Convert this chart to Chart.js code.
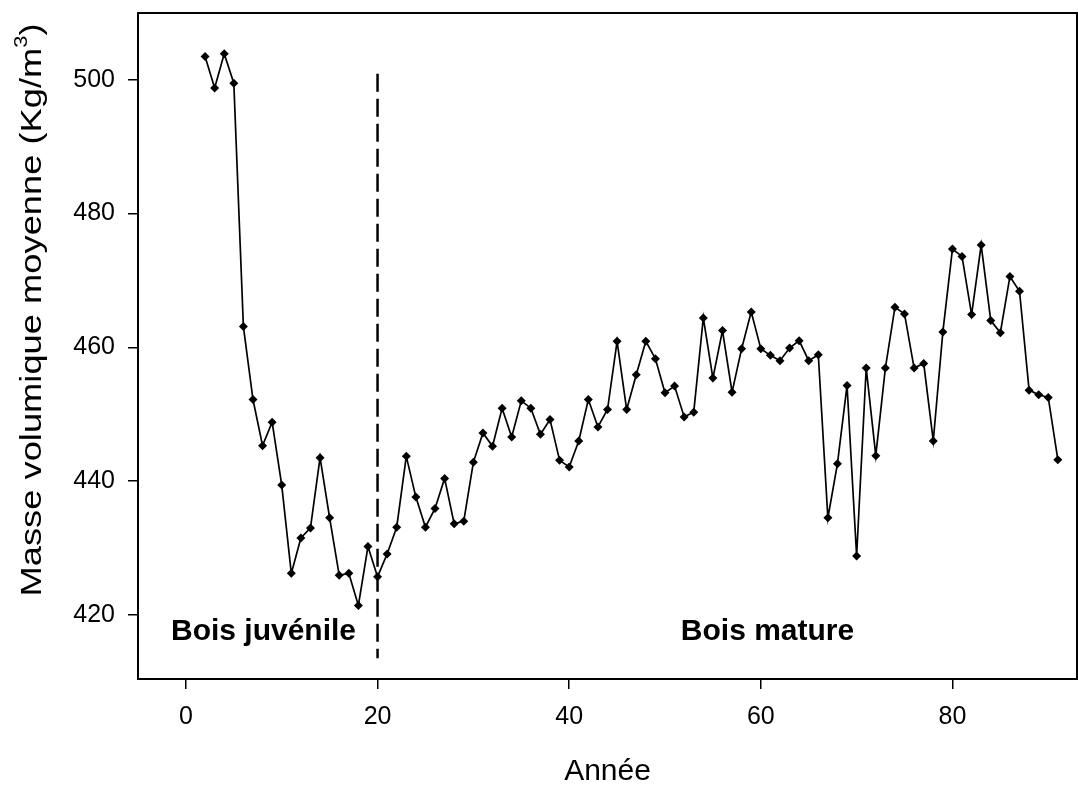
<!DOCTYPE html>
<html>
<head>
<meta charset="utf-8">
<script src="https://cdn.jsdelivr.net/npm/chart.js@4/dist/chart.umd.min.js"></script>
<style>
  html, body { margin: 0; padding: 0; background: #fff; }
</style>
</head>
<body>
<canvas id="densityChart" width="1078" height="786"></canvas>
<script>
// ring year and mean density
const years = [2, 3, 4, 5, 6, 7, 8, 9, 10, 11, 12, 13, 14, 15, 16, 17, 18, 19, 20,
  21, 22, 23, 24, 25, 26, 27, 28, 29, 30, 31, 32, 33, 34, 35, 36, 37, 38, 39, 40,
  41, 42, 43, 44, 45, 46, 47, 48, 49, 50, 51, 52, 53, 54, 55, 56, 57, 58, 59, 60,
  61, 62, 63, 64, 65, 66, 67, 68, 69, 70, 71, 72, 73, 74, 75, 76, 77, 78, 79, 80,
  81, 82, 83, 84, 85, 86, 87, 88, 89, 90, 91];
const density = [503.5, 498.8, 503.9, 499.5, 463.1, 452.2, 445.3, 448.8, 439.4, 426.2,
  431.5, 433.0, 443.5, 434.5, 425.9, 426.2, 421.4, 430.2, 425.7,
  429.1, 433.1, 443.7, 437.6, 433.1, 435.9, 440.4, 433.6, 434.0, 442.8,
  447.2, 445.2, 450.9, 446.6, 452.0, 450.9, 447.0, 449.2, 443.1, 442.1,
  446.0, 452.2, 448.1, 450.7, 460.9, 450.7, 455.9, 460.9, 458.3, 453.2,
  454.2, 449.6, 450.3, 464.4, 455.4, 462.5, 453.3, 459.8, 465.3, 459.8,
  458.8, 458.0, 459.9, 461.0, 458.0, 458.9, 434.5, 442.6, 454.3, 428.8,
  456.9, 443.8, 456.9, 466.0, 465.0, 456.9, 457.6, 446.0, 462.3, 474.7,
  473.6, 464.9, 475.3, 464.0, 462.2, 470.6, 468.4, 453.6, 452.9, 452.5, 443.2];

const xTicks = [0, 20, 40, 60, 80];
const yTicks = [420, 440, 460, 480, 500];

// juvenile / mature boundary
const boundaryYear = [20, 20];
const boundaryDensity = [500.9, 413.5];

const zoneLabels = ["Bois juvénile", "Bois mature"];
const zoneLabelYears = [8.1, 60.7];
const zoneLabelDensity = [416.2, 416.2];

const xTitle = "Année";
const yTitle = "Masse volumique moyenne (Kg/m";

const FONT = "'Liberation Sans', Arial, sans-serif";

const decorations = {
  id: "decorations",
  afterDatasetsDraw(chart) {
    const { ctx, chartArea: a, scales } = chart;
    ctx.save();
    // frame
    ctx.strokeStyle = "#000";
    ctx.lineWidth = 2;
    ctx.strokeRect(a.left, a.top, a.right - a.left, a.bottom - a.top);

    // zone labels
    ctx.fillStyle = "#000";
    ctx.font = "bold 30px " + FONT;
    ctx.textAlign = "center";
    ctx.textBaseline = "alphabetic";
    zoneLabels.forEach((t, i) => {
      ctx.fillText(t, scales.x.getPixelForValue(zoneLabelYears[i]),
        scales.y.getPixelForValue(zoneLabelDensity[i]));
    });

    // x title
    ctx.font = "30px " + FONT;
    ctx.fillText(xTitle, (a.left + a.right) / 2, 780);

    // y title with superscript, fitted to the original length
    ctx.translate(41, 310);
    ctx.rotate(-Math.PI / 2);
    ctx.font = "30px " + FONT;
    const w1 = ctx.measureText(yTitle).width;
    ctx.font = "18px " + FONT;
    const w2 = ctx.measureText("3").width;
    ctx.font = "30px " + FONT;
    const w3 = ctx.measureText(")").width;
    const total = w1 + w2 + w3;
    ctx.scale(573 / total, 1);
    ctx.textAlign = "left";
    let x0 = -total / 2;
    ctx.fillText(yTitle, x0, 0);
    ctx.font = "18px " + FONT;
    ctx.fillText("3", x0 + w1, -14);
    ctx.font = "30px " + FONT;
    ctx.fillText(")", x0 + w1 + w2, 0);
    ctx.restore();
  }
};

new Chart(document.getElementById("densityChart").getContext("2d"), {
  type: "line",
  data: {
    datasets: [
      {
        data: years.map((y, i) => ({ x: y, y: density[i] })),
        borderColor: "#000",
        backgroundColor: "#000",
        borderWidth: 1.7,
        pointStyle: "rectRot",
        pointRadius: 4.5,
        pointBorderWidth: 0,
        tension: 0,
      },
      {
        data: boundaryYear.map((y, i) => ({ x: y, y: boundaryDensity[i] })),
        borderColor: "#000",
        borderWidth: 2.5,
        borderDash: [18, 7],
        pointRadius: 0,
      },
    ],
  },
  options: {
    responsive: false,
    devicePixelRatio: 1,
    animation: false,
    layout: { autoPadding: false, padding: { top: 13, right: 1, left: 0, bottom: 0 } },
    plugins: { legend: { display: false }, tooltip: { enabled: false } },
    scales: {
      x: {
        type: "linear",
        min: -5,
        max: 93,
        afterFit: (s) => { s.height = 107; s.paddingLeft = 0; s.paddingRight = 0; },
        afterBuildTicks: (s) => { s.ticks = xTicks.map((v) => ({ value: v })); },
        ticks: { color: "#000", font: { family: FONT, size: 25 }, padding: 13, maxRotation: 0 },
        grid: { drawOnChartArea: false, tickLength: 10, color: "#000", lineWidth: 1.5 },
        border: { display: true, color: "#000", width: 2 },
      },
      y: {
        min: 410.4,
        max: 510,
        afterFit: (s) => { s.width = 138; s.paddingTop = 0; s.paddingBottom = 0; },
        afterBuildTicks: (s) => { s.ticks = yTicks.map((v) => ({ value: v })); },
        ticks: { color: "#000", font: { family: FONT, size: 25 }, padding: 13 },
        grid: { drawOnChartArea: false, tickLength: 10, color: "#000", lineWidth: 1.5 },
        border: { display: true, color: "#000", width: 2 },
      },
    },
  },
  plugins: [decorations],
});
</script>
</body>
</html>
